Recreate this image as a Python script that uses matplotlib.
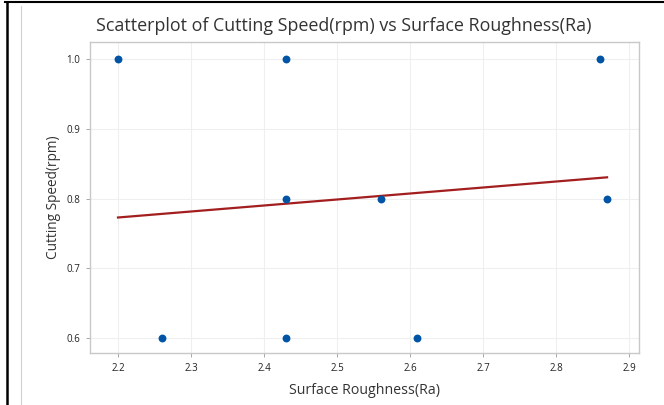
# Scatterplot of cutting speed vs surface roughness with fitted line

import matplotlib
matplotlib.use("Agg")
import matplotlib.pyplot as plt
from matplotlib.lines import Line2D
import numpy as np

# Data
roughness = [2.20, 2.43, 2.86, 2.43, 2.56, 2.87, 2.26, 2.43, 2.61]
speed = [1.0, 1.0, 1.0, 0.8, 0.8, 0.8, 0.6, 0.6, 0.6]
x_ticks = [2.2, 2.3, 2.4, 2.5, 2.6, 2.7, 2.8, 2.9]
y_ticks = [0.6, 0.7, 0.8, 0.9, 1.0]

plt.rcParams["font.family"] = ["Open Sans", "DejaVu Sans"]

fig = plt.figure(figsize=(6.64, 4.05), dpi=100)
ax = fig.add_axes([0.1355, 0.1284, 0.8268, 0.7679])

# least squares fit line across data range
slope, intercept = np.polyfit(roughness, speed, 1)
xfit = np.array([min(roughness), max(roughness)])
ax.plot(xfit, slope * xfit + intercept, color="#A31F1F", linewidth=1.6, zorder=2)

ax.scatter(roughness, speed, s=32, color="#0054A6", zorder=3, linewidths=0)

ax.set_xlim(2.1616, 2.9137)
ax.set_ylim(0.5785, 1.0244)
ax.set_xticks(x_ticks)
ax.set_yticks(y_ticks)
ax.set_xticklabels([f"{v:.1f}" for v in x_ticks])
ax.set_yticklabels([f"{v:.1f}" for v in y_ticks])
ax.tick_params(labelsize=7, colors="#222222", length=3, width=0.6, pad=4)
ax.tick_params(color="#999999")
ax.grid(True, color="#efefef", linewidth=0.8)
ax.set_axisbelow(True)
for s in ax.spines.values():
    s.set_color("#c8c8c8")
    s.set_linewidth(1.0)

ax.set_xlabel("Surface Roughness(Ra)", fontsize=10.2, color="#333333", labelpad=7)
ax.set_ylabel("Cutting Speed(rpm)", fontsize=9.8, color="#333333", labelpad=4)
fig.text(0.517, 0.935, "Scatterplot of Cutting Speed(rpm) vs Surface Roughness(Ra)",
         ha="center", va="center", fontsize=12.9, color="#333333")

# page border lines
fig.add_artist(Line2D([0.0098, 0.0098], [0, 0.995], color="black", linewidth=1.8))
fig.add_artist(Line2D([0.0075, 1.0], [0.995, 0.995], color="black", linewidth=1.5))
fig.add_artist(Line2D([0.0316, 0.0316], [0, 0.985], color="#d0d0d0", linewidth=0.8))

fig.savefig("out.png", dpi=100)
